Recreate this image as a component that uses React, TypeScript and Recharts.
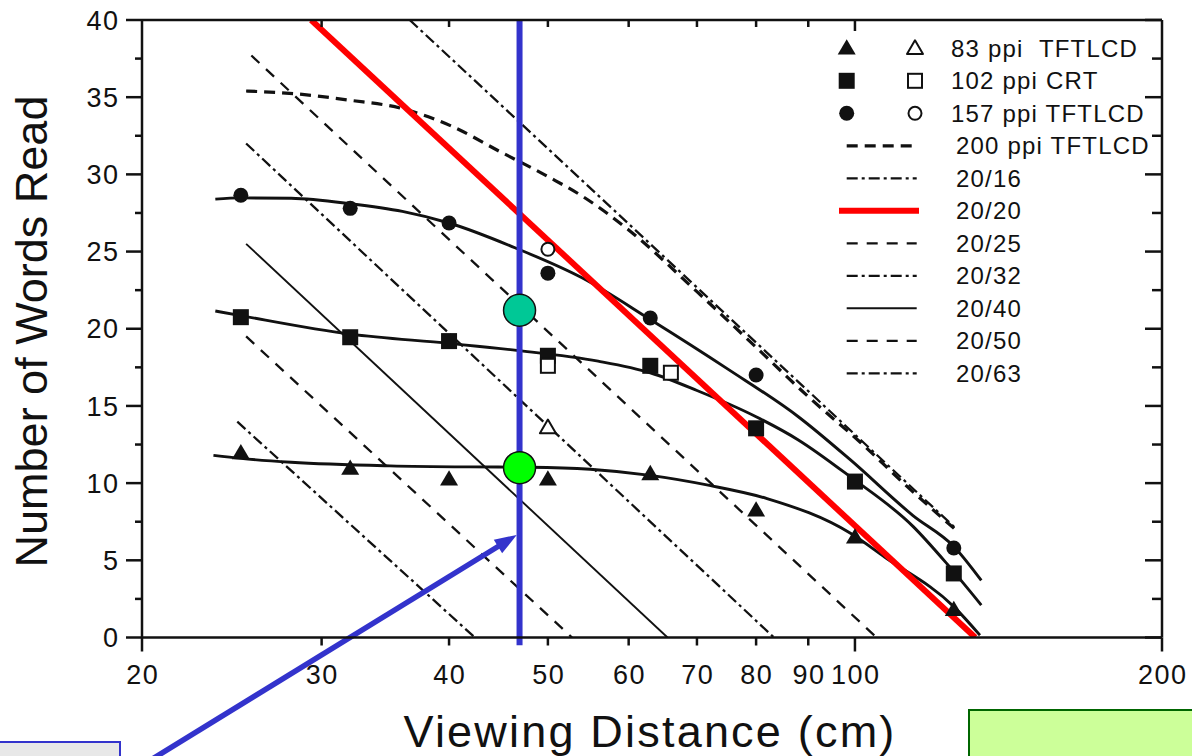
import React from 'react';
import {
  ComposedChart,
  Line,
  Scatter,
  XAxis,
  YAxis,
  ReferenceLine,
  ReferenceDot,
} from 'recharts';

type Pt = { x: number; y: number };

// measured points: viewing distance (cm) -> words read
const TRI_FILLED: Pt[] = [
  { x: 25, y: 11.95 }, { x: 32, y: 10.95 }, { x: 40, y: 10.25 }, { x: 50, y: 10.25 },
  { x: 63, y: 10.6 }, { x: 80, y: 8.25 }, { x: 100, y: 6.5 }, { x: 125, y: 1.8 },
];
const TRI_OPEN: Pt[] = [{ x: 50, y: 13.6 }];
const SQ_FILLED: Pt[] = [
  { x: 25, y: 20.75 }, { x: 32, y: 19.45 }, { x: 40, y: 19.2 }, { x: 50, y: 18.25 },
  { x: 63, y: 17.6 }, { x: 80, y: 13.55 }, { x: 100, y: 10.1 }, { x: 125, y: 4.15 },
];
const SQ_OPEN: Pt[] = [{ x: 50, y: 17.6 }, { x: 66, y: 17.15 }];
const CIR_FILLED: Pt[] = [
  { x: 25, y: 28.65 }, { x: 32, y: 27.8 }, { x: 40, y: 26.85 }, { x: 50, y: 23.6 },
  { x: 63, y: 20.7 }, { x: 80, y: 17.0 }, { x: 125, y: 5.8 },
];
const CIR_OPEN: Pt[] = [{ x: 50, y: 25.15 }];

// fitted curves
const FIT_83: Pt[] = [
  { x: 23.5, y: 11.8 }, { x: 25, y: 11.6 }, { x: 28, y: 11.35 }, { x: 35, y: 11.12 },
  { x: 42, y: 11.05 }, { x: 48, y: 11.03 }, { x: 55, y: 10.9 }, { x: 63, y: 10.5 },
  { x: 72, y: 9.85 }, { x: 82, y: 9.0 }, { x: 99, y: 6.75 }, { x: 107, y: 5.2 },
  { x: 125, y: 2.0 }, { x: 132.6, y: 0.15 },
];
const FIT_102: Pt[] = [
  { x: 23.6, y: 21.15 }, { x: 25, y: 20.85 }, { x: 32, y: 19.65 }, { x: 40, y: 19.05 },
  { x: 46.6, y: 18.6 }, { x: 56, y: 17.9 }, { x: 63, y: 17.15 }, { x: 70, y: 16.0 },
  { x: 80, y: 14.3 }, { x: 88, y: 12.8 }, { x: 99, y: 10.4 }, { x: 114, y: 7.2 },
  { x: 123, y: 4.8 }, { x: 133, y: 2.1 },
];
const FIT_157: Pt[] = [
  { x: 23.6, y: 28.4 }, { x: 25, y: 28.48 }, { x: 28, y: 28.45 }, { x: 32, y: 28.1 },
  { x: 36, y: 27.6 }, { x: 40, y: 26.85 }, { x: 46.6, y: 25.2 }, { x: 54, y: 23.3 },
  { x: 63, y: 20.6 }, { x: 75, y: 17.4 }, { x: 88, y: 14.3 }, { x: 99, y: 11.5 },
  { x: 114, y: 7.9 }, { x: 125, y: 5.9 }, { x: 133, y: 3.7 },
];
const CURVE_200: Pt[] = [
  { x: 25.3, y: 35.4 }, { x: 28.5, y: 35.2 }, { x: 32, y: 34.8 }, { x: 35.8, y: 34.3 },
  { x: 40.3, y: 33.1 }, { x: 44.8, y: 31.5 }, { x: 50.2, y: 29.8 }, { x: 54, y: 28.6 },
  { x: 60, y: 26.4 }, { x: 70, y: 22.4 }, { x: 80, y: 18.8 }, { x: 90, y: 15.6 },
  { x: 101.4, y: 12.6 }, { x: 112, y: 9.9 }, { x: 125.4, y: 7.0 },
];

// acuity limit lines
const ACUITY_16: Pt[] = [{ x: 36.6, y: 40 }, { x: 125.4, y: 7.1 }];
const ACUITY_20: Pt[] = [{ x: 29.3, y: 40 }, { x: 131.2, y: 0 }];
const ACUITY_25: Pt[] = [{ x: 25.6, y: 37.7 }, { x: 105, y: 0 }];
const ACUITY_32: Pt[] = [{ x: 25.3, y: 32.0 }, { x: 83.3, y: 0 }];
const ACUITY_40: Pt[] = [{ x: 25.3, y: 25.5 }, { x: 65.5, y: 0 }];
const ACUITY_50: Pt[] = [{ x: 25.3, y: 19.5 }, { x: 52.8, y: 0 }];
const ACUITY_63: Pt[] = [{ x: 24.8, y: 13.98 }, { x: 42.4, y: 0 }];

// annotations
const MARK_LINE: Pt[] = [{ x: 46.9, y: 40 }, { x: 46.9, y: -0.5 }];
const ARROW: Pt[] = [{ x: 19.2, y: -9 }, { x: 46.6, y: 6.64 }];
const DOT_TEAL: Pt = { x: 46.9, y: 21.2 };
const DOT_GREEN: Pt = { x: 46.9, y: 11.0 };

const X_TICKS = [20, 30, 40, 50, 60, 70, 80, 90, 100, 200];
const X_TOP_TICKS = [30, 40, 50, 60, 70, 80, 90, 100];
const Y_TICKS = [0, 2.5, 5, 7.5, 10, 12.5, 15, 17.5, 20, 22.5, 25, 27.5, 30, 32.5, 35, 37.5, 40];

const LEGEND_LABELS = [
  '83 ppi  TFTLCD', '102 ppi CRT', '157 ppi TFTLCD', '200 ppi TFTLCD',
  '20/16', '20/20', '20/25', '20/32', '20/40', '20/50', '20/63',
];

const FONT = '"Liberation Sans", Arial, Helvetica, sans-serif';
const INK = '#111';
const RED = '#ff0000';
const BLUE = '#3333cc';

const DASH_HEAVY = { strokeDasharray: '11 7', strokeWidth: 3.2 };
const DASH = { strokeDasharray: '11 9', strokeWidth: 2.3 };
const DASH_DOT = { strokeDasharray: '11 4 3 4', strokeWidth: 2.3 };
const THIN = { strokeWidth: 1.9 };
const FIT = { strokeWidth: 2.9 };
const RED_LINE = { strokeWidth: 6, stroke: RED };

const LEGEND_MARKS = ['tri', 'sq', 'cir'];
const LEGEND_STYLES: any[] = [null, null, null, DASH_HEAVY, DASH_DOT, RED_LINE, DASH, DASH_DOT, THIN, DASH, DASH_DOT];

function Marker({ kind, filled, cx, cy }: { kind: string; filled: boolean; cx: number; cy: number }) {
  const fill = filled ? INK : '#fff';
  const sw = filled ? 0 : 2;
  if (kind === 'tri') {
    const s = filled ? 9 : 8;
    return (
      <polygon
        points={`${cx},${cy - s} ${cx + s},${cy + s * 0.7} ${cx - s},${cy + s * 0.7}`}
        fill={fill}
        stroke={INK}
        strokeWidth={sw}
        strokeLinejoin="round"
      />
    );
  }
  if (kind === 'sq') {
    const s = filled ? 8 : 7;
    return <rect x={cx - s} y={cy - s} width={s * 2} height={s * 2} fill={fill} stroke={INK} strokeWidth={sw} />;
  }
  return <circle cx={cx} cy={cy} r={filled ? 7.5 : 6.5} fill={fill} stroke={INK} strokeWidth={sw} />;
}

const tickText = { fontFamily: FONT, fontSize: 27, letterSpacing: 1.5, fill: INK };

function BottomTick(p: any) {
  const v = p.payload.value;
  const major = v === 20 || v === 100 || v === 200;
  return (
    <g>
      <line x1={p.x} x2={p.x} y1={p.y} y2={p.y + (major ? 14 : 8)} stroke={INK} strokeWidth={2.5} />
      <text x={p.x + 0.75} y={p.y + 46} textAnchor="middle" {...tickText}>{v}</text>
    </g>
  );
}

function TopTick(p: any) {
  const v = p.payload.value;
  return <line x1={p.x} x2={p.x} y1={p.y} y2={p.y + (v === 100 ? 11 : 7)} stroke={INK} strokeWidth={2.5} />;
}

function LeftTick(p: any) {
  const v = p.payload.value;
  const major = v % 5 === 0;
  return (
    <g>
      <line x1={p.x - (major ? 16 : 7)} x2={p.x} y1={p.y} y2={p.y} stroke={INK} strokeWidth={2.5} />
      {major && (
        <text x={p.x - 22.5} y={p.y + 9.6} textAnchor="end" {...tickText}>{v}</text>
      )}
    </g>
  );
}

function RightTick(p: any) {
  const v = p.payload.value;
  const major = v % 5 === 0;
  return <line x1={p.x - (major ? 17 : 10)} x2={p.x} y1={p.y} y2={p.y} stroke={INK} strokeWidth={2.5} />;
}

function ArrowShape(p: any) {
  const { x1, y1, x2, y2 } = p;
  const a = Math.atan2(y2 - y1, x2 - x1);
  const len = 22;
  const half = 8;
  const bx = x2 - len * Math.cos(a);
  const by = y2 - len * Math.sin(a);
  const nx = -Math.sin(a) * half;
  const ny = Math.cos(a) * half;
  return (
    <g>
      <line x1={x1} y1={y1} x2={bx + 2 * Math.cos(a)} y2={by + 2 * Math.sin(a)} stroke={BLUE} strokeWidth={5.5} />
      <polygon points={`${x2},${y2} ${bx + nx},${by + ny} ${bx - nx},${by - ny}`} fill={BLUE} />
    </g>
  );
}

const line = (key: string, data: Pt[], style: any, type: 'linear' | 'monotone' = 'linear') => (
  <Line
    key={key}
    data={data}
    dataKey="y"
    type={type}
    stroke={INK}
    {...style}
    dot={false}
    activeDot={false}
    isAnimationActive={false}
    legendType="none"
  />
);

const scatter = (key: string, data: Pt[], kind: string, filled: boolean) => (
  <Scatter
    key={key}
    data={data}
    isAnimationActive={false}
    legendType="none"
    shape={(p: any) => <Marker kind={kind} filled={filled} cx={p.cx} cy={p.cy} />}
  />
);

function Overlay() {
  return (
    <svg width={1192} height={756} style={{ position: 'absolute', left: 0, top: 0, pointerEvents: 'none' }}>
      <text
        x={47}
        y={331.5}
        transform="rotate(-90 47 331.5)"
        textAnchor="middle"
        fontFamily={FONT}
        fontSize={45}
        fill={INK}
      >
        Number of Words Read
      </text>
      <text x={650} y={747} textAnchor="middle" fontFamily={FONT} fontSize={45} letterSpacing={2.2} fill={INK}>
        Viewing Distance (cm)
      </text>
      {LEGEND_LABELS.map((label, i) => {
        const cy = 48.3 + i * 32.5;
        const st = LEGEND_STYLES[i];
        const isRed = st === RED_LINE;
        return (
          <g key={label}>
            {i < 3 ? (
              <>
                <Marker kind={LEGEND_MARKS[i]} filled cx={846.7} cy={cy} />
                <Marker kind={LEGEND_MARKS[i]} filled={false} cx={915} cy={cy} />
              </>
            ) : (
              <line
                x1={isRed ? 839 : 846.7}
                x2={isRed ? 919 : 916.7}
                y1={cy}
                y2={cy}
                stroke={INK}
                {...st}
              />
            )}
            <text
              x={i < 3 ? 951 : 956}
              y={cy + 8.5}
              fontFamily={FONT}
              fontSize={24}
              letterSpacing={1.2}
              fill={INK}
              style={{ whiteSpace: 'pre' }}
            >
              {label}
            </text>
          </g>
        );
      })}
    </svg>
  );
}

export default function App() {
  return (
    <div
      style={{
        position: 'absolute',
        left: 0,
        top: 0,
        width: 1192,
        height: 756,
        background: '#fff',
        overflow: 'hidden',
        fontFamily: FONT,
      }}
    >
      <ComposedChart width={1192} height={756} margin={{ top: 0, right: 0, bottom: 0, left: 0 }}>
        <XAxis
          type="number"
          dataKey="x"
          scale="log"
          domain={[20, 200]}
          allowDataOverflow
          ticks={X_TICKS}
          interval={0}
          height={118.5}
          tickSize={0}
          tickMargin={0}
          tickLine={false}
          tick={BottomTick}
          axisLine={{ stroke: INK, strokeWidth: 2.5 }}
        />
        <XAxis
          xAxisId="top"
          orientation="top"
          type="number"
          dataKey="x"
          scale="log"
          domain={[20, 200]}
          allowDataOverflow
          ticks={X_TOP_TICKS}
          interval={0}
          height={20}
          tickSize={0}
          tickMargin={0}
          tickLine={false}
          tick={TopTick}
          axisLine={{ stroke: INK, strokeWidth: 2.5 }}
        />
        <YAxis
          type="number"
          dataKey="y"
          domain={[0, 40]}
          allowDataOverflow
          ticks={Y_TICKS}
          interval={0}
          width={142}
          tickSize={0}
          tickMargin={0}
          tickLine={false}
          tick={LeftTick}
          axisLine={{ stroke: INK, strokeWidth: 2.5 }}
        />
        <YAxis
          yAxisId="right"
          orientation="right"
          type="number"
          domain={[0, 40]}
          allowDataOverflow
          ticks={Y_TICKS}
          interval={0}
          width={30}
          tickSize={0}
          tickMargin={0}
          tickLine={false}
          tick={RightTick}
          axisLine={{ stroke: INK, strokeWidth: 2.5 }}
        />

        <Line
          xAxisId="top"
          yAxisId="right"
          data={FIT_157}
          dataKey="y"
          stroke="none"
          dot={false}
          activeDot={false}
          isAnimationActive={false}
          legendType="none"
        />

        {line('a63', ACUITY_63, DASH_DOT)}
        {line('a50', ACUITY_50, DASH)}
        {line('a40', ACUITY_40, THIN)}
        {line('a32', ACUITY_32, DASH_DOT)}
        {line('a25', ACUITY_25, DASH)}
        {line('a16', ACUITY_16, DASH_DOT)}
        {line('c200', CURVE_200, DASH_HEAVY, 'monotone')}
        {line('f83', FIT_83, FIT, 'monotone')}
        {line('f102', FIT_102, FIT, 'monotone')}
        {line('f157', FIT_157, FIT, 'monotone')}

        {scatter('tf', TRI_FILLED, 'tri', true)}
        {scatter('to', TRI_OPEN, 'tri', false)}
        {scatter('sf', SQ_FILLED, 'sq', true)}
        {scatter('so', SQ_OPEN, 'sq', false)}
        {scatter('cf', CIR_FILLED, 'cir', true)}
        {scatter('co', CIR_OPEN, 'cir', false)}

        {line('a20', ACUITY_20, RED_LINE)}

        <ReferenceLine
          segment={MARK_LINE}
          stroke={BLUE}
          strokeWidth={6}
          ifOverflow="visible"
        />
        <ReferenceLine segment={ARROW} ifOverflow="visible" shape={ArrowShape} />
        <ReferenceDot
          x={DOT_TEAL.x}
          y={DOT_TEAL.y}
          r={16}
          fill="#00c896"
          stroke={INK}
          strokeWidth={1.5}
          ifOverflow="visible"
        />
        <ReferenceDot
          x={DOT_GREEN.x}
          y={DOT_GREEN.y}
          r={16}
          fill="#00ff00"
          stroke={INK}
          strokeWidth={1.5}
          ifOverflow="visible"
        />
      </ComposedChart>
      <Overlay />
      <div
        style={{
          position: 'absolute',
          left: -2,
          top: 741,
          width: 119,
          height: 30,
          background: '#e8e8e8',
          border: `2px solid ${BLUE}`,
        }}
      />
      <div
        style={{
          position: 'absolute',
          left: 968,
          top: 709,
          width: 240,
          height: 60,
          background: '#ccff99',
          border: '2px solid #006600',
        }}
      />
    </div>
  );
}
